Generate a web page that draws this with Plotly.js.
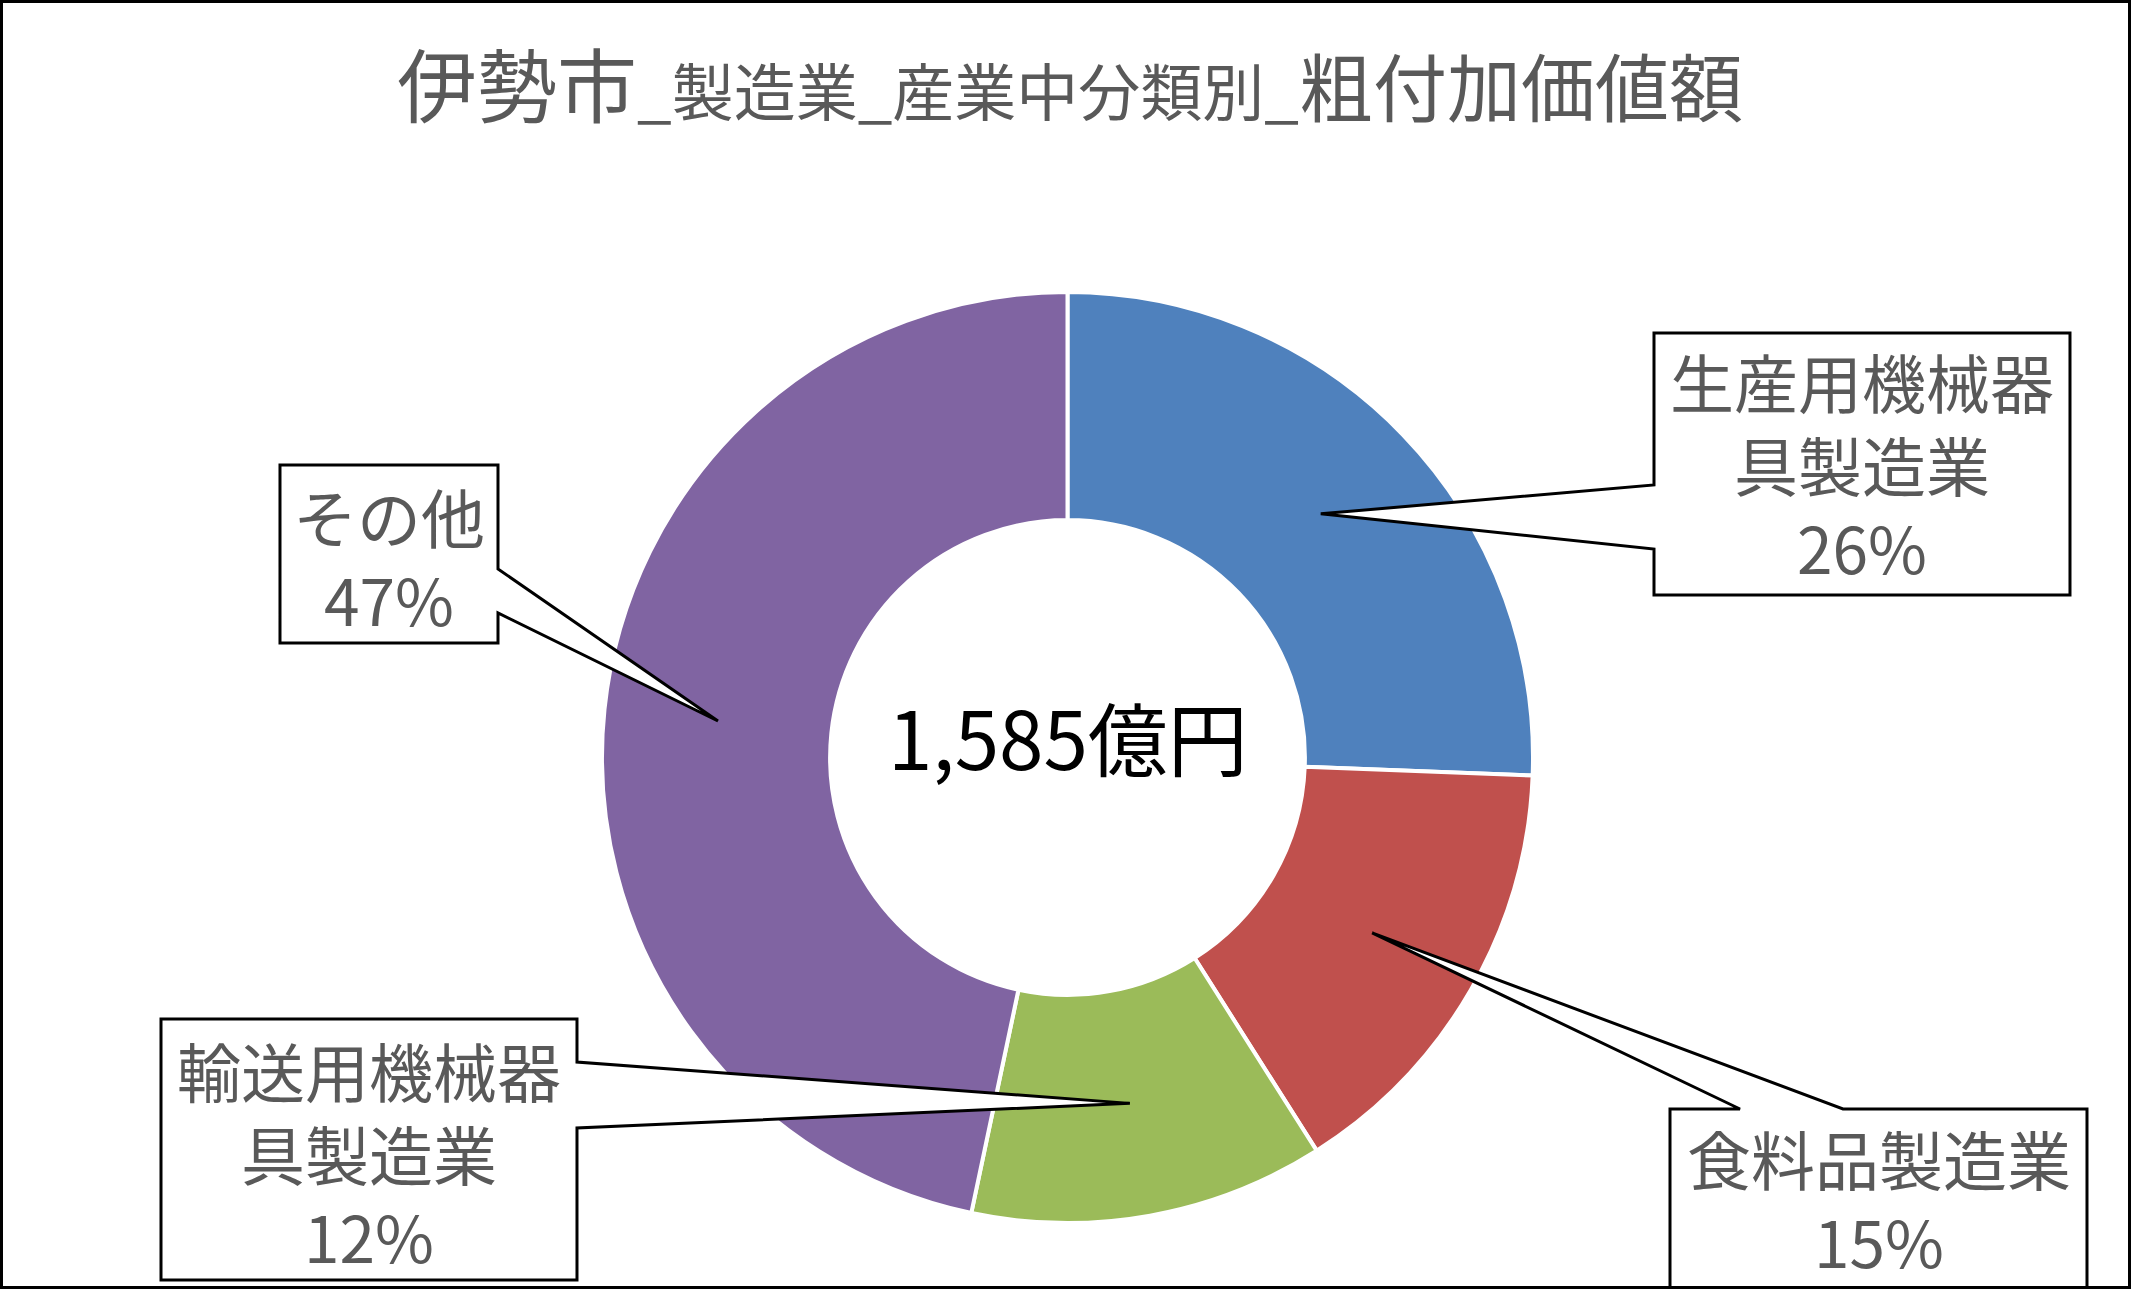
<!DOCTYPE html>
<html>
<head>
<meta charset="utf-8">
<script src="https://cdn.plot.ly/plotly-3.0.1.min.js"></script>
<style>
html,body{margin:0;padding:0;background:#fff;}
#chart{width:2131px;height:1289px;}
</style>
</head>
<body>
<div id="chart"></div>
<script>
// ---- data ----
const categories = ['生産用機械器具製造業', '食料品製造業', '輸送用機械器具製造業', 'その他'];
const labelLines = [['生産用機械器', '具製造業'], ['食料品製造業'], ['輸送用機械器', '具製造業'], ['その他']];
const values = [406, 244, 195, 740];   // 億円
const colors = ['#4F81BD', '#C0504D', '#9BBB59', '#8064A2'];
const unit = '億円';
const titleParts = ['伊勢市', '_製造業_産業中分類別_', '粗付加価値額'];

// ---- layout constants ----
const W = 2131, H = 1289;
const HOLE = 0.51;
const dom = {x: [602 / W, 1533 / W], y: [1 - 1223 / H, 1 - 292 / H]};
const cx = (dom.x[0] + dom.x[1]) / 2 * W;
const cy = (1 - (dom.y[0] + dom.y[1]) / 2) * H;
const R = Math.min((dom.x[1] - dom.x[0]) * W, (dom.y[1] - dom.y[0]) * H) / 2;

const X = p => p / W;
const Y = p => 1 - p / H;

// callout boxes (pixel positions): box rect + side where the pointer attaches + pointer base
const boxes = [
  {x0: 1654, y0: 333, x1: 2070, y1: 595, side: 'left', a: 485, b: 549},
  {x0: 1670, y0: 1109, x1: 2087, y1: 1295, side: 'top', a: 1740, b: 1843},
  {x0: 161, y0: 1019, x1: 577, y1: 1280, side: 'right', a: 1062, b: 1128},
  {x0: 280, y0: 465, x1: 498, y1: 643, side: 'right', a: 569, b: 613}
];
const textMidY = [463, 1198, 1152, 556];

const total = values.reduce((s, v) => s + v, 0);

// tips at slice centroid (mid angle, mid ring)
let cum = 0;
const tips = values.map(v => {
  const mid = (cum + v / 2) / total;
  cum += v;
  const th = mid * 2 * Math.PI;
  const r = R * (1 + HOLE) / 2;
  return [cx + r * Math.sin(th), cy - r * Math.cos(th)];
});

function pathFor(b, t) {
  const P = (x, y) => X(x).toFixed(5) + ',' + Y(y).toFixed(5);
  const tp = P(t[0], t[1]);
  if (b.side === 'left') {
    return 'M' + P(b.x0, b.y0) + ' L' + P(b.x1, b.y0) + ' L' + P(b.x1, b.y1) + ' L' + P(b.x0, b.y1) +
      ' L' + P(b.x0, b.b) + ' L' + tp + ' L' + P(b.x0, b.a) + ' Z';
  } else if (b.side === 'right') {
    return 'M' + P(b.x0, b.y0) + ' L' + P(b.x1, b.y0) + ' L' + P(b.x1, b.a) + ' L' + tp +
      ' L' + P(b.x1, b.b) + ' L' + P(b.x1, b.y1) + ' L' + P(b.x0, b.y1) + ' Z';
  } else {
    return 'M' + P(b.x0, b.y0) + ' L' + P(b.a, b.y0) + ' L' + tp + ' L' + P(b.b, b.y0) +
      ' L' + P(b.x1, b.y0) + ' L' + P(b.x1, b.y1) + ' L' + P(b.x0, b.y1) + ' Z';
  }
}

const FONT = '"Noto Sans CJK JP", "Noto Sans", sans-serif';
const shapes = boxes.map((b, i) => ({
  type: 'path', xref: 'paper', yref: 'paper', path: pathFor(b, tips[i]),
  fillcolor: '#FFFFFF', line: {color: '#000000', width: 3}, layer: 'above'
}));
// outer frame
shapes.push({type: 'rect', xref: 'paper', yref: 'paper', x0: 0, x1: 1, y0: 0, y1: 1,
  line: {color: '#000000', width: 6}, fillcolor: 'rgba(0,0,0,0)', layer: 'above'});

const annotations = values.map((v, i) => {
  const b = boxes[i];
  const lines = labelLines[i].concat([Math.round(v / total * 100) + '%']);
  return {
    xref: 'paper', yref: 'paper', x: X((b.x0 + b.x1) / 2), y: Y(textMidY[i]),
    xanchor: 'center', yanchor: 'middle', showarrow: false, text: lines.join('<br>'),
    align: 'center', borderpad: 0,
    font: {family: FONT, size: 64, color: '#595959'}
  };
});
annotations.push({
  xref: 'paper', yref: 'paper', x: X(cx), y: Y(cy - 22), xanchor: 'center', yanchor: 'middle',
  showarrow: false, text: total.toLocaleString('en-US') + unit,
  font: {family: FONT, size: 80, color: '#000000'}
});

const titleText = '<span style="font-size:80px">' + titleParts[0] + '</span>' +
  '<span style="font-size:62px">' + titleParts[1] + '</span>' +
  '<span style="font-size:74px">' + titleParts[2] + '</span>';

const data = [{
  type: 'pie', labels: categories, values: values, hole: HOLE, sort: false,
  direction: 'clockwise', rotation: 0, domain: dom,
  marker: {colors: colors, line: {color: '#FFFFFF', width: 4}},
  textinfo: 'none', hoverinfo: 'label+value+percent', showlegend: false
}];

const layout = {
  width: W, height: H,
  margin: {l: 0, r: 0, t: 0, b: 0},
  paper_bgcolor: '#FFFFFF',
  title: {text: titleText, x: X(1070), xanchor: 'center', y: Y(90), yanchor: 'middle',
    xref: 'paper', yref: 'container', font: {family: FONT, size: 74, color: '#595959'}},
  showlegend: false,
  shapes: shapes,
  annotations: annotations
};

Plotly.newPlot('chart', data, layout, {displayModeBar: false, staticPlot: true});
</script>
</body>
</html>
